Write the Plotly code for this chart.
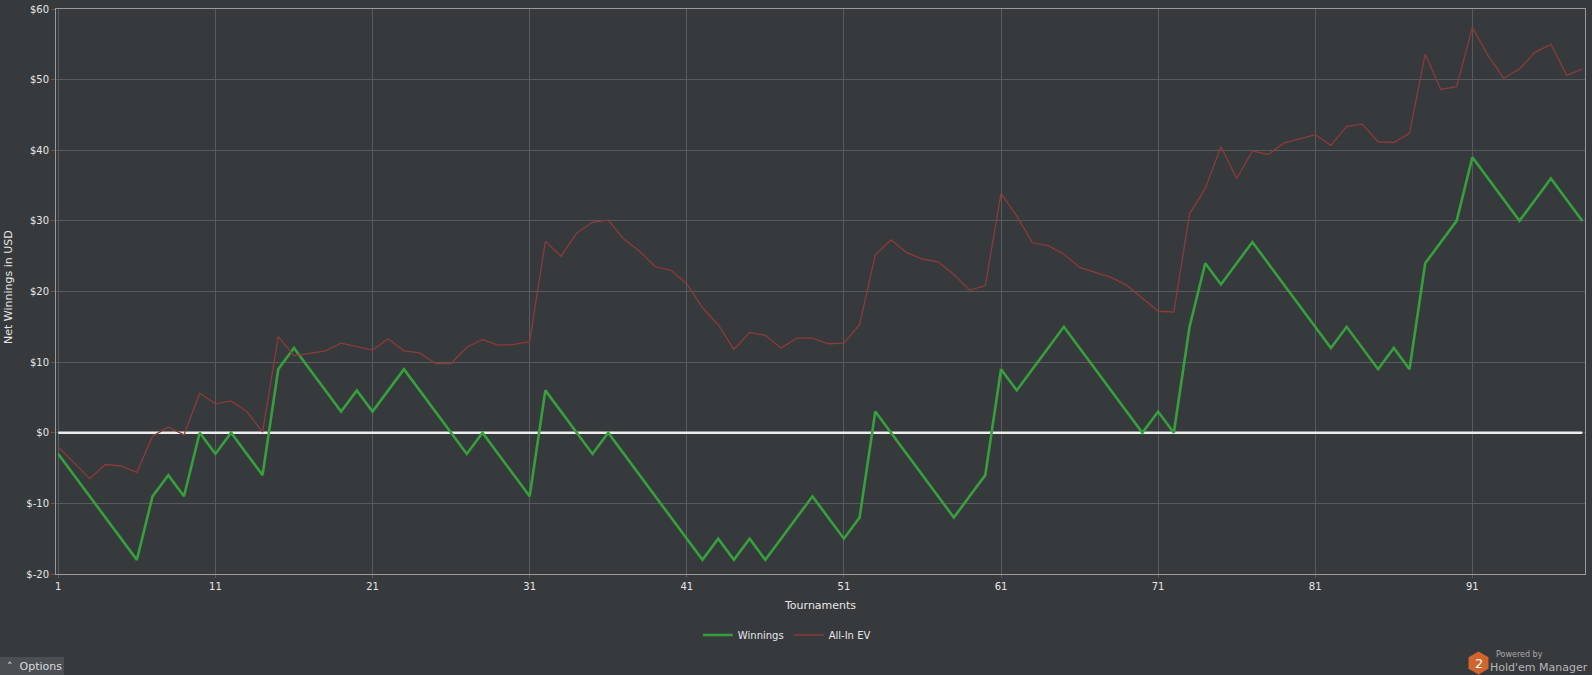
import plotly.graph_objects as go
import math

# ---------------- data ----------------
tournaments = list(range(1, 99))

winnings = [
    -3, -6, -9, -12, -15, -18, -9, -6, -9, 0,
    -3, 0, -3, -6, 9, 12, 9, 6, 3, 6,
    3, 6, 9, 6, 3, 0, -3, 0, -3, -6,
    -9, 6, 3, 0, -3, 0, -3, -6, -9, -12,
    -15, -18, -15, -18, -15, -18, -15, -12, -9, -12,
    -15, -12, 3, 0, -3, -6, -9, -12, -9, -6,
    9, 6, 9, 12, 15, 12, 9, 6, 3, 0,
    3, 0, 15, 24, 21, 24, 27, 24, 21, 18,
    15, 12, 15, 12, 9, 12, 9, 24, 27, 30,
    39, 36, 33, 30, 33, 36, 33, 30,
]

allin_ev = [
    -2.0, -4.2, -6.5, -4.5, -4.7, -5.6, -0.5, 0.8, -0.3, 5.6,
    4.1, 4.5, 3.0, 0.1, 13.6, 10.9, 11.3, 11.6, 12.7, 12.2,
    11.7, 13.3, 11.6, 11.3, 9.8, 9.8, 12.1, 13.2, 12.4, 12.5,
    12.9, 27.1, 25.0, 28.3, 29.8, 30.1, 27.4, 25.7, 23.5, 23.0,
    21.1, 17.7, 15.3, 11.8, 14.2, 13.8, 12.0, 13.4, 13.4, 12.6,
    12.7, 15.3, 25.2, 27.3, 25.5, 24.6, 24.2, 22.4, 20.2, 20.8,
    33.9, 30.7, 26.9, 26.5, 25.3, 23.4, 22.7, 22.0, 20.9, 19.0,
    17.2, 17.1, 31.0, 34.6, 40.5, 36.0, 39.9, 39.4, 41.0, 41.6,
    42.2, 40.7, 43.4, 43.7, 41.2, 41.1, 42.4, 53.6, 48.6, 49.0,
    57.4, 53.4, 50.2, 51.5, 53.9, 55.0, 50.6, 51.5,
]

x_tick_vals = [1, 11, 21, 31, 41, 51, 61, 71, 81, 91]
y_tick_vals = [-20, -10, 0, 10, 20, 30, 40, 50, 60]
y_tick_text = ["$-20", "$-10", "$0", "$10", "$20", "$30", "$40", "$50", "$60"]

# ---------------- style ----------------
W, H = 1592, 675
ML, MR, MT, MB = 56, 7, 9, 101
PW, PH = W - ML - MR, H - MT - MB
BG = "#373a3d"
GRID = "#585b5e"
FONT = "DejaVu Sans"
GREEN = "#35a03c"
RED = "#8c3a3a"


def px(x):
    return (x - ML) / PW


def py(y):
    return (H - MB - y) / PH


fig = go.Figure()

# zero line drawn across the data span
fig.add_trace(go.Scatter(
    x=[tournaments[0], tournaments[-1]], y=[0, 0], mode="lines",
    line=dict(color="#ececec", width=2.5), showlegend=False, hoverinfo="skip"))

fig.add_trace(go.Scatter(
    x=tournaments, y=winnings, mode="lines", name="Winnings",
    line=dict(color=GREEN, width=2.6)))
fig.add_trace(go.Scatter(
    x=tournaments, y=allin_ev, mode="lines", name="All-In EV",
    line=dict(color=RED, width=1.3)))

fig.update_layout(
    width=W, height=H,
    margin=dict(l=ML, r=MR, t=MT, b=MB, pad=0, autoexpand=False),
    paper_bgcolor=BG, plot_bgcolor=BG,
    font=dict(family=FONT, color="#e6e6e6", size=11),
    showlegend=True,
    legend=dict(orientation="h", x=0.478, xanchor="center", y=py(635),
                yanchor="middle", font=dict(size=10, color="#e6e6e6"),
                bgcolor="rgba(0,0,0,0)", itemwidth=30, traceorder="normal"),
    xaxis=dict(
        range=[0.854, 98.17], tickmode="array", tickvals=x_tick_vals,
        showgrid=True, gridcolor=GRID, gridwidth=1, zeroline=False,
        showline=True, linecolor="#9a9a9a", linewidth=1, mirror=True,
        ticks="outside", ticklen=3, tickcolor=GRID, automargin=False,
        tickfont=dict(size=10, color="#e6e6e6", family=FONT),
    ),
    yaxis=dict(
        range=[-20, 60], tickmode="array", tickvals=y_tick_vals, ticktext=y_tick_text,
        showgrid=True, gridcolor=GRID, gridwidth=1, zeroline=False,
        showline=True, linecolor="#9a9a9a", linewidth=1, mirror=True,
        ticks="outside", ticklen=4, tickcolor=GRID, automargin=False,
        tickfont=dict(size=10, color="#e6e6e6", family=FONT),
    ),
)

annotations = [
    dict(text="Net Winnings in USD", xref="paper", yref="paper", x=px(8), y=py(287),
         textangle=-90, showarrow=False, xanchor="center", yanchor="middle",
         font=dict(size=11, color="#e6e6e6", family=FONT)),
    dict(text="Tournaments", xref="paper", yref="paper", x=px(820), y=py(605),
         showarrow=False, xanchor="center", yanchor="middle",
         font=dict(size=11, color="#e6e6e6", family=FONT)),
    dict(text="˄  Options", xref="paper", yref="paper", x=px(5), y=py(666),
         showarrow=False, xanchor="left", yanchor="middle",
         font=dict(size=11, color="#dcdcdc", family=FONT)),
    dict(text="2", xref="paper", yref="paper", x=px(1478.5), y=py(663),
         showarrow=False, xanchor="center", yanchor="middle",
         font=dict(size=13, color="#ffffff", family=FONT)),
    dict(text="Powered by", xref="paper", yref="paper", x=px(1494), y=py(654),
         showarrow=False, xanchor="left", yanchor="middle",
         font=dict(size=8, color="#a9a9a9", family=FONT)),
    dict(text="Hold'em Manager", xref="paper", yref="paper", x=px(1590), y=py(667),
         showarrow=False, xanchor="right", yanchor="middle",
         font=dict(size=11, color="#b5b5b5", family=FONT)),
]
fig.update_layout(annotations=annotations)

# Options tab background
shapes = [
    dict(type="rect", xref="paper", yref="paper", x0=px(0), x1=px(64), y0=py(657), y1=py(676),
         fillcolor="#4b4e52", line=dict(width=0), layer="below"),
]

# hexagon logo
cx, cy, r = 1478.5, 663, 11.5
pts = []
for k in range(6):
    a = math.radians(90 + 60 * k)
    pts.append((px(cx + r * math.cos(a)), py(cy - r * math.sin(a))))
path = "M " + " L ".join(f"{a:.5f},{b:.5f}" for a, b in pts) + " Z"
shapes.append(dict(type="path", xref="paper", yref="paper", path=path,
                   fillcolor="#d2652c", line=dict(width=0), layer="above"))
fig.update_layout(shapes=shapes)

fig.write_html("out.html")
